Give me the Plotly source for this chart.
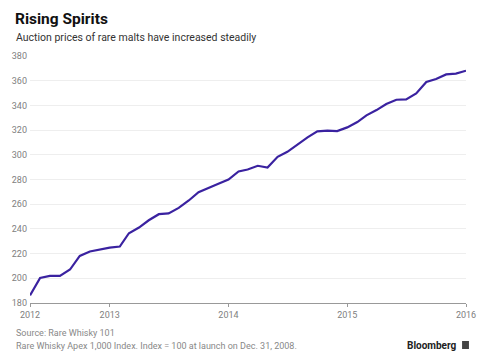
import plotly.graph_objects as go
import pandas as pd

dates = pd.date_range("2012-05-01", "2016-01-01", freq="MS")
values = [186.2, 200.3, 201.9, 201.9, 207.1, 218.1, 221.7, 223.5, 224.9, 225.7,
          236.5, 241.1, 247.0, 251.9, 252.5, 257.0, 263.0, 269.7, 273.5, 276.5,
          280.0, 286.5, 288.1, 291.1, 289.7, 298.4, 302.4, 308.4, 314.1, 319.0,
          319.5, 319.2, 322.2, 326.5, 331.9, 336.2, 341.1, 344.6, 344.9, 349.7,
          358.9, 361.4, 365.1, 365.7, 368.1]
x_tick_vals = ["2012-05-01", "2013-01-01", "2014-01-01", "2015-01-01", "2016-01-01"]
x_tick_text = ["2012", "2013", "2014", "2015", "2016"]
y_ticks = [180, 200, 220, 240, 260, 280, 300, 320, 340, 360, 380]

title = "Rising Spirits"
subtitle = "Auction prices of rare malts have increased steadily"
source = "Source: Rare Whisky 101"
note = "Rare Whisky Apex 1,000 Index. Index = 100 at launch on Dec. 31, 2008."

fig = go.Figure()
fig.add_trace(go.Scatter(x=dates, y=values, mode="lines",
                         line=dict(color="#3a22a0", width=2.2),
                         hoverinfo="skip", showlegend=False))

W, H = 488, 360
pl, pr, pt, pb = 28, 17, 56, 57
pw, ph = W - pl - pr, H - pt - pb

def px(x):
    return (x - pl) / pw

def py(y):
    return (H - y - pb) / ph

fig.update_layout(
    width=W, height=H,
    margin=dict(l=pl, r=pr, t=pt, b=pb),
    paper_bgcolor="white", plot_bgcolor="white",
    font=dict(family="Roboto, Arial, sans-serif", color="#777"),
    xaxis=dict(range=[dates[0], dates[-1]], tickvals=x_tick_vals, ticktext=x_tick_text,
               showgrid=False, zeroline=False, showline=True, linecolor="#999", linewidth=1,
               ticks="outside", ticklen=3, tickcolor="#999",
               tickfont=dict(size=9, color="#808080")),
    yaxis=dict(range=[180, 380], tickvals=y_ticks, showgrid=True, gridcolor="#eeeeee",
               gridwidth=1, zeroline=False, showline=False, ticks="",
               tickfont=dict(size=9, color="#808080"), ticklabelstandoff=2),
    annotations=[
        dict(text="<b>" + title + "</b>", x=px(11), y=py(19), xref="paper", yref="paper",
             showarrow=False, xanchor="left", yanchor="middle",
             font=dict(size=15.5, color="#111", family="Roboto, Arial, sans-serif")),
        dict(text=subtitle, x=px(12), y=py(37), xref="paper", yref="paper",
             showarrow=False, xanchor="left", yanchor="middle",
             font=dict(size=10.5, color="#333", family="Roboto, Arial, sans-serif")),
        dict(text=source, x=px(12), y=py(333), xref="paper", yref="paper",
             showarrow=False, xanchor="left", yanchor="middle",
             font=dict(size=9, color="#888")),
        dict(text=note, x=px(12), y=py(346), xref="paper", yref="paper",
             showarrow=False, xanchor="left", yanchor="middle",
             font=dict(size=9, color="#888")),
        dict(text="<b>Bloomberg</b>", x=px(464), y=py(345), xref="paper", yref="paper",
             showarrow=False, xanchor="right", yanchor="middle",
             font=dict(size=10, color="#222")),
    ],
)

fig.add_shape(type="rect", xref="paper", yref="paper",
              x0=px(467), x1=px(474), y0=py(349), y1=py(341),
              fillcolor="#444", line=dict(width=0))

fig.write_html("out.html", config={"displayModeBar": False},
               post_script="document.body.style.margin='0';")
